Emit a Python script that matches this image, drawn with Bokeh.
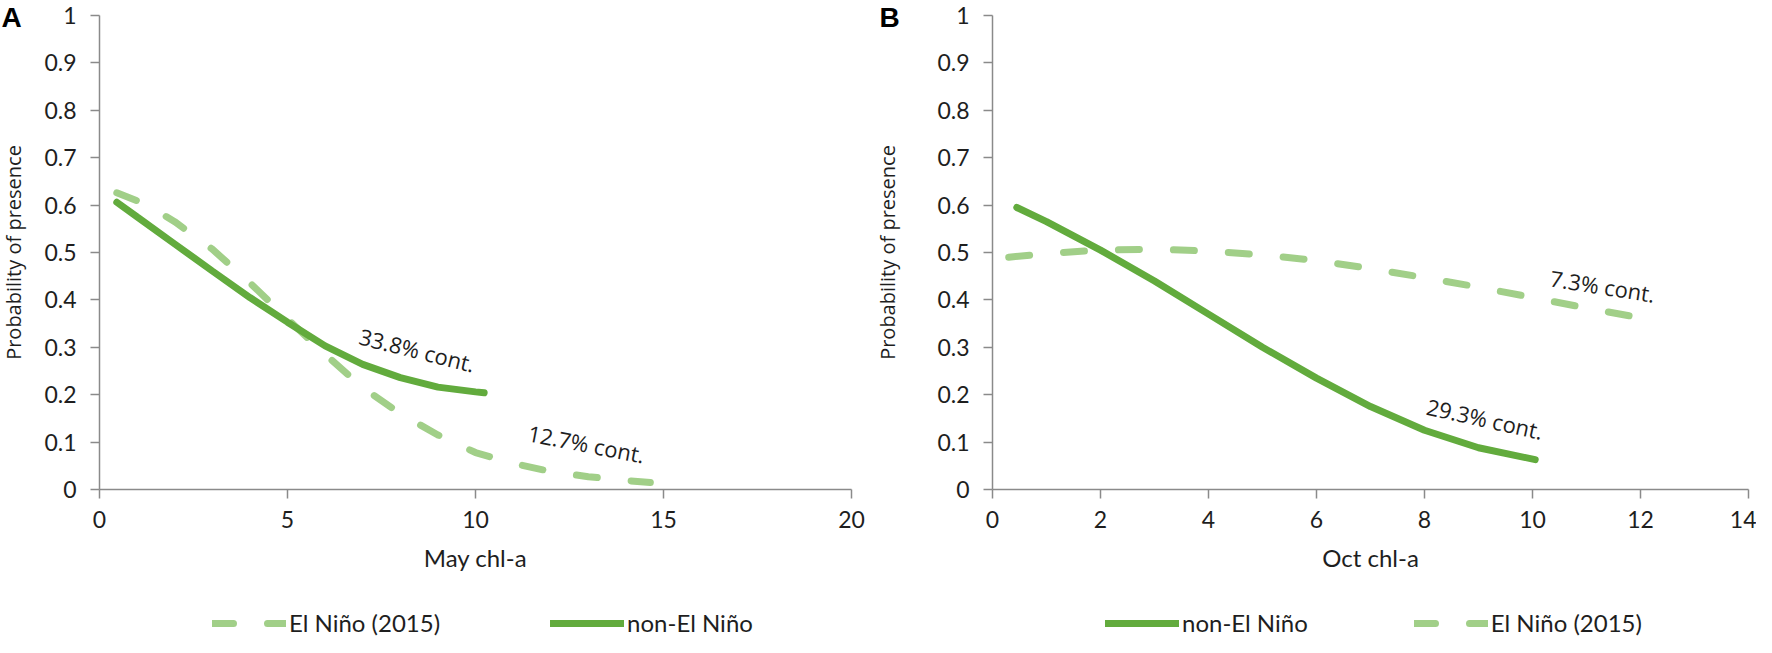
from bokeh.plotting import figure
from bokeh.layouts import row
from bokeh.models import Range1d, FixedTicker, Legend, LegendItem, Label, ColumnDataSource
from bokeh.embed import file_html
from bokeh.resources import INLINE

# ---------------- data ----------------
# Panel A: May chl-a
may_elnino_x = [0.46, 1.2, 2.0, 3.0, 4.0, 5.0, 6.0, 7.0, 8.0, 9.0, 10.0, 11.0, 12.0, 13.0, 14.0, 14.65]
may_elnino_y = [0.626, 0.603, 0.565, 0.507, 0.436, 0.36, 0.285, 0.215, 0.16, 0.115, 0.078, 0.055, 0.038, 0.027, 0.019, 0.015]
may_non_x = [0.46, 1.0, 2.0, 3.0, 4.0, 5.0, 6.0, 7.0, 8.0, 9.0, 10.0, 10.23]
may_non_y = [0.606, 0.575, 0.518, 0.461, 0.405, 0.353, 0.303, 0.264, 0.236, 0.216, 0.206, 0.204]

# Panel B: Oct chl-a
oct_non_x = [0.45, 1.0, 2.0, 3.0, 4.0, 5.0, 6.0, 7.0, 8.0, 9.0, 10.05]
oct_non_y = [0.595, 0.565, 0.505, 0.44, 0.37, 0.30, 0.235, 0.175, 0.125, 0.088, 0.063]
oct_elnino_x = [0.3, 1.0, 2.0, 3.0, 4.0, 5.0, 6.0, 7.0, 8.0, 9.0, 10.0, 11.0, 12.0]
oct_elnino_y = [0.49, 0.498, 0.505, 0.507, 0.503, 0.495, 0.483, 0.466, 0.447, 0.427, 0.405, 0.383, 0.362]

series_labels = ["El Niño (2015)", "non-El Niño"]

y_ticks = [0, 0.1, 0.2, 0.3, 0.4, 0.5, 0.6, 0.7, 0.8, 0.9, 1]
y_tick_labels = ["0", "0.1", "0.2", "0.3", "0.4", "0.5", "0.6", "0.7", "0.8", "0.9", "1"]
may_x_ticks = [0, 5, 10, 15, 20]
oct_x_ticks = [0, 2, 4, 6, 8, 10, 12, 14]

# annotations
may_notes_text = ["33.8% cont.", "12.7% cont."]
may_notes_x = [8.45, 12.95]
may_notes_y = [0.295, 0.097]
may_notes_angle = [-14, -11]
oct_notes_text = ["7.3% cont.", "29.3% cont."]
oct_notes_x = [11.3, 9.12]
oct_notes_y = [0.43, 0.15]
oct_notes_angle = [-9, -12.5]

# ---------------- style / layout (page pixels) ----------------
SOLID = "#62AB3D"
DASHED = "#A1CF88"
AXIS = "#8A8A8A"
TXT = "#1e1e1e"
TICK_FONT = "Lato"
TITLE_FONT = "Open Sans"

PAGE_TOP = 8
FIG_H = 637
Y1_PAGE = 23     # page y of probability 1
Y0_PAGE = 497    # page y of probability 0


def make_panel(fig_left, fig_w, x0_page, xend_page, xmax, xticks, xlabel,
               letter, letter_x, ytitle_standoff):
    kx = (xend_page - x0_page) / xmax
    x_start = -(x0_page - fig_left) / kx
    x_end = xmax + (fig_left + fig_w - xend_page) / kx
    ky = (Y0_PAGE - Y1_PAGE)
    y_end = 1 + (Y1_PAGE - PAGE_TOP) / ky
    y_start = -(PAGE_TOP + FIG_H - Y0_PAGE) / ky

    p = figure(width=fig_w, height=FIG_H, output_backend="svg", toolbar_location=None,
               title=None, x_range=Range1d(x_start, x_end), y_range=Range1d(y_start, y_end),
               min_border=0)
    p.outline_line_color = None
    p.grid.visible = False
    p.background_fill_color = "white"
    p.border_fill_color = "white"

    p.xaxis.fixed_location = 0
    p.yaxis.fixed_location = 0
    p.xaxis.bounds = (0, xmax)
    p.yaxis.bounds = (0, 1)
    p.xaxis.ticker = FixedTicker(ticks=xticks)
    p.yaxis.ticker = FixedTicker(ticks=y_ticks)
    p.yaxis.major_label_overrides = {str(t): lab for t, lab in zip(y_ticks, y_tick_labels)}
    for ax in (p.xaxis, p.yaxis):
        ax.axis_line_color = AXIS
        ax.axis_line_width = 1.5
        ax.major_tick_line_color = AXIS
        ax.major_tick_line_width = 1.5
        ax.major_tick_out = 9
        ax.major_tick_in = 0
        ax.minor_tick_line_color = None
        ax.major_label_text_font = TICK_FONT
        ax.major_label_text_font_size = "23px"
        ax.major_label_text_color = TXT
        ax.axis_label_text_font_style = "normal"
        ax.axis_label_text_color = TXT
    p.xaxis.axis_label = xlabel
    p.xaxis.axis_label_text_font = TICK_FONT
    p.xaxis.axis_label_text_font_size = "24px"
    p.xaxis.major_label_standoff = 12
    p.xaxis.axis_label_standoff = 12
    p.yaxis.axis_label = "Probability of presence"
    p.yaxis.axis_label_text_font = TITLE_FONT
    p.yaxis.axis_label_text_font_size = "20px"
    p.yaxis.major_label_standoff = 14
    p.yaxis.axis_label_standoff = ytitle_standoff

    p.add_layout(Label(x=letter_x - fig_left, y=FIG_H - (25 - PAGE_TOP), x_units="screen",
                       y_units="screen", text=letter, text_font="Liberation Sans",
                       text_font_style="bold", text_font_size="28px", text_color="black",
                       text_baseline="middle", text_align="left"))
    return p


def add_notes(p, texts, xs, ys, angles):
    for t, x, y, a in zip(texts, xs, ys, angles):
        p.add_layout(Label(x=x, y=y, text=t, angle=a, angle_units="deg",
                           text_align="center", text_baseline="middle",
                           text_font=TITLE_FONT, text_font_size="22px", text_color=TXT))


def add_legend(p, items, vx, spacing):
    leg = Legend(items=items, orientation="horizontal", location=(vx, 0),
                 glyph_width=74, glyph_height=20, label_standoff=3, spacing=spacing,
                 padding=0, margin=0, border_line_color=None, background_fill_alpha=0,
                 label_text_font=TICK_FONT, label_text_font_size="24px",
                 label_text_color=TXT)
    p.add_layout(leg, "center")


# ---------------- panel A ----------------
A_LEFT, A_W = 8, 872
pA = make_panel(A_LEFT, A_W, 107, 859, 20, may_x_ticks, "May chl-a", "A", 9, 14)
srcA_e = ColumnDataSource(dict(x=may_elnino_x, y=may_elnino_y))
srcA_n = ColumnDataSource(dict(x=may_non_x, y=may_non_y))
rA_e = pA.line("x", "y", source=srcA_e, line_color=DASHED, line_width=7,
               line_dash="21 34", line_cap="round")
rA_n = pA.line("x", "y", source=srcA_n, line_color=SOLID, line_width=7, line_cap="round")
add_notes(pA, may_notes_text, may_notes_x, may_notes_y, may_notes_angle)
add_legend(pA, [LegendItem(label=series_labels[0], renderers=[rA_e]),
                LegendItem(label=series_labels[1], renderers=[rA_n])], 220 - A_LEFT, 110)

# ---------------- panel B ----------------
B_LEFT, B_W = 880, 884
pB = make_panel(B_LEFT, B_W, 1000, 1756, 14, oct_x_ticks, "Oct chl-a", "B", 887, 33)
srcB_n = ColumnDataSource(dict(x=oct_non_x, y=oct_non_y))
srcB_e = ColumnDataSource(dict(x=oct_elnino_x, y=oct_elnino_y))
rB_e = pB.line("x", "y", source=srcB_e, line_color=DASHED, line_width=7,
               line_dash="21 34", line_cap="round")
rB_n = pB.line("x", "y", source=srcB_n, line_color=SOLID, line_width=7, line_cap="round")
add_notes(pB, oct_notes_text, oct_notes_x, oct_notes_y, oct_notes_angle)
add_legend(pB, [LegendItem(label=series_labels[1], renderers=[rB_n]),
                LegendItem(label=series_labels[0], renderers=[rB_e])], 1113 - B_LEFT, 106)

layout = row(pA, pB, spacing=0)
open("out.html", "w").write(file_html(layout, INLINE))
